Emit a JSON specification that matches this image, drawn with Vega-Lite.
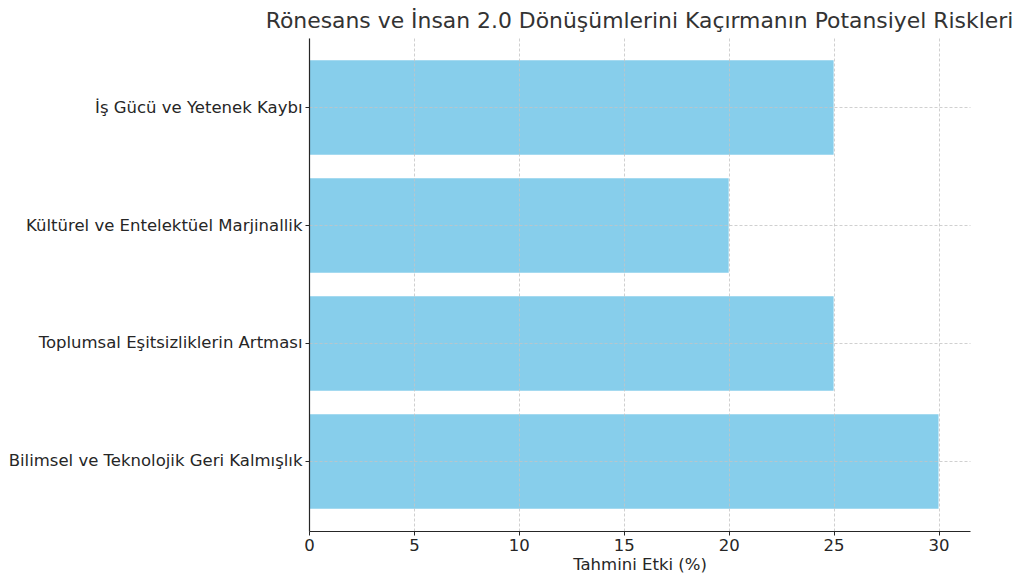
{
  "$schema": "https://vega.github.io/schema/vega-lite/v6.json",
  "width": 661,
  "height": 493,
  "autosize": {"type": "none"},
  "padding": {"left": 309, "top": 38, "right": 54, "bottom": 53},
  "background": "white",
  "title": {
    "text": "Rönesans ve İnsan 2.0 Dönüşümlerini Kaçırmanın Potansiyel Riskleri",
    "font": "DejaVu Sans",
    "fontSize": 21.9,
    "fontWeight": "normal",
    "color": "#333333",
    "anchor": "middle",
    "offset": 5
  },
  "config": {
    "view": {"stroke": null},
    "font": "DejaVu Sans"
  },
  "data": {
    "values": [
      {"risk": "İş Gücü ve Yetenek Kaybı", "etki": 25},
      {"risk": "Kültürel ve Entelektüel Marjinallik", "etki": 20},
      {"risk": "Toplumsal Eşitsizliklerin Artması", "etki": 25},
      {"risk": "Bilimsel ve Teknolojik Geri Kalmışlık", "etki": 30}
    ]
  },
  "mark": {"type": "bar", "color": "#87CEEB"},
  "encoding": {
    "y": {
      "field": "risk",
      "type": "nominal",
      "sort": null,
      "scale": {"paddingInner": 0.2, "paddingOuter": 0.189},
      "axis": {
        "title": null,
        "labelFont": "DejaVu Sans",
        "labelFontSize": 16.5,
        "labelColor": "#262626",
        "labelPadding": 3,
        "labelLimit": 400,
        "domainColor": "#262626",
        "domainWidth": 1.2,
        "tickColor": "#262626",
        "tickSize": 4,
        "bandPosition": 0.5,
        "grid": true,
        "gridColor": "#c4c4c4",
        "gridDash": [3, 2],
        "gridWidth": 0.8,
        "zindex": 1
      }
    },
    "x": {
      "field": "etki",
      "type": "quantitative",
      "scale": {"domain": [0, 31.5], "nice": false, "zero": true},
      "axis": {
        "title": "Tahmini Etki (%)",
        "titleFont": "DejaVu Sans",
        "titleFontSize": 16.5,
        "titleFontWeight": "normal",
        "titleColor": "#262626",
        "titlePadding": 3,
        "values": [0, 5, 10, 15, 20, 25, 30],
        "labelFont": "DejaVu Sans",
        "labelFontSize": 16.5,
        "labelColor": "#262626",
        "labelPadding": 2,
        "labelFlush": false,
        "domainColor": "#262626",
        "domainWidth": 1.2,
        "tickColor": "#262626",
        "tickSize": 4,
        "grid": true,
        "gridColor": "#c4c4c4",
        "gridDash": [3, 2],
        "gridWidth": 0.8,
        "zindex": 1
      }
    }
  }
}
